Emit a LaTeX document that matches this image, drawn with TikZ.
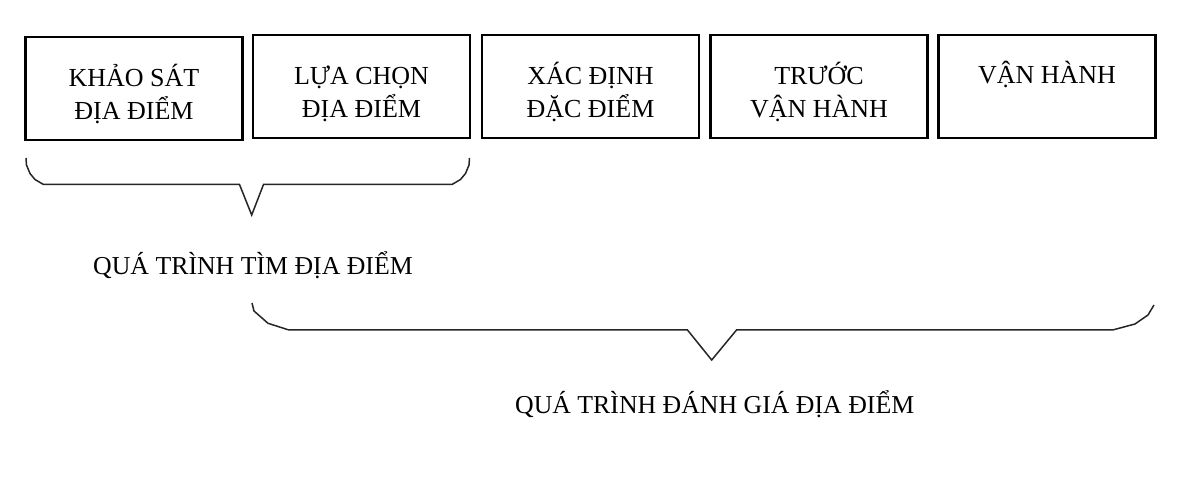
\documentclass[tikz,border=0pt]{standalone}
\usepackage{fontspec}
\setmainfont{Liberation Serif}
\begin{document}
\begin{tikzpicture}[x=1pt,y=-1pt,
  stagebox/.style={draw=black, line width=2.4pt, minimum width=217pt, minimum height=103pt, inner sep=0pt},
  stagetext/.style={font=\fontsize{26}{33}\selectfont, align=center, inner sep=0pt, anchor=base},
  bracetext/.style={font=\fontsize{25.8}{31}\selectfont, inner sep=0pt, anchor=base},
  bracepath/.style={draw=black!85, line width=1.5pt, line join=miter}]
\useasboundingbox (0,0) rectangle (1200,494);
\fill[white] (0,0) rectangle (1200,494);
% boxes
\node[stagebox] (b1) at (134,88.5) {};
\node[stagebox] (b2) at (361.5,86.5) {};
\node[stagebox] (b3) at (590.5,86.5) {};
\node[stagebox] (b4) at (819,86.5) {};
\node[stagebox] (b5) at (1047,86.5) {};
% texts (base anchor = baseline of the last line)
\node[stagetext] (t1) at (134,120) {KHẢO SÁT\\ĐỊA ĐIỂM};
\node[stagetext] (t2) at (361.5,118) {LỰA CHỌN\\ĐỊA ĐIỂM};
\node[stagetext] (t3) at (590.5,118) {XÁC ĐỊNH\\ĐẶC ĐIỂM};
\node[stagetext] (t4) at (819,118) {TRƯỚC\\VẬN HÀNH};
\node[stagetext] (t5) at (1047,84) {VẬN HÀNH};
% brace 1
\draw[bracepath] (26,158) -- (26.5,165) -- (30,173.5) -- (35,179.5) -- (43.5,184.5)
  -- (239.5,184.5) -- (251.7,215) -- (263.5,184.5) -- (452,184.5)
  -- (460.5,179.5) -- (465.5,173.5) -- (469,165) -- (469.5,158);
% brace 2
\draw[bracepath] (252,303) -- (254,311) -- (268,323.3) -- (288.3,329.8)
  -- (687.3,329.8) -- (711.7,360) -- (736.7,329.8) -- (1113.3,329.8)
  -- (1135,324) -- (1148,315) -- (1154,305);
% labels
\node[bracetext] (l1) at (253,275) {QUÁ TRÌNH TÌM ĐỊA ĐIỂM};
\node[bracetext] (l2) at (714.7,413.3) {QUÁ TRÌNH ĐÁNH GIÁ ĐỊA ĐIỂM};
\end{tikzpicture}
\end{document}
